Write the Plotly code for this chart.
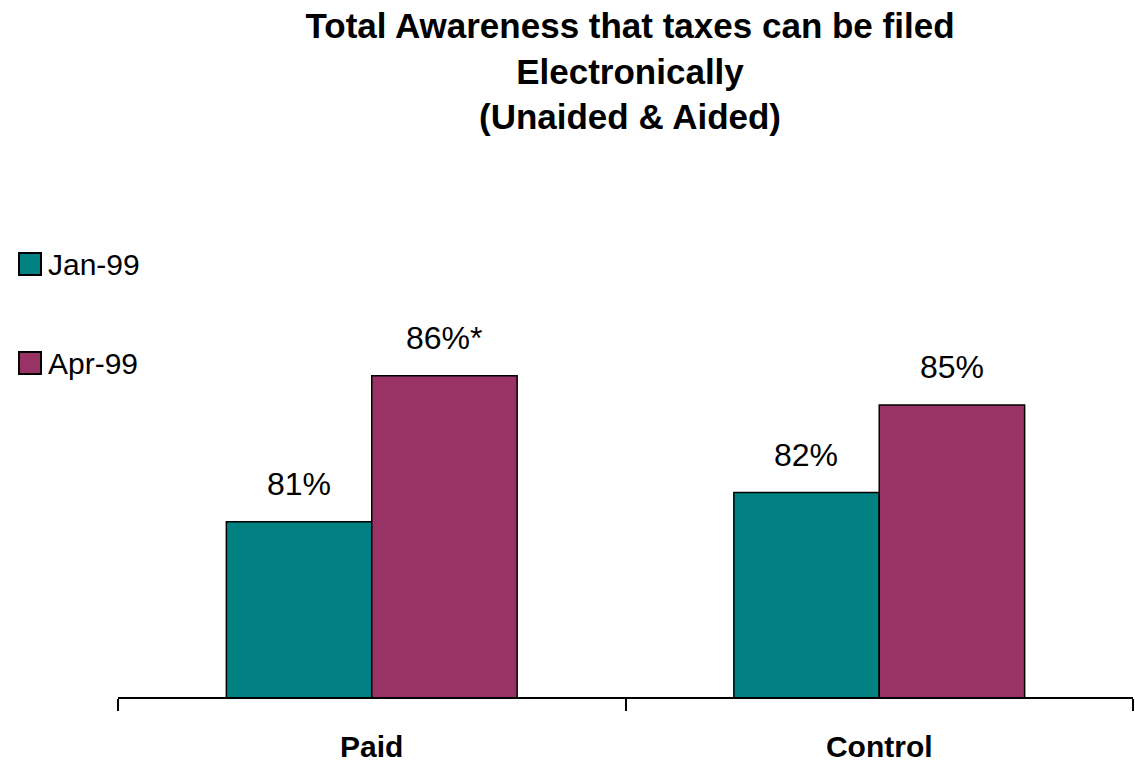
import plotly.graph_objects as go

categories = ["Paid", "Control"]
series_names = ["Jan-99", "Apr-99"]
jan_values = [81, 82]
apr_values = [86, 85]
jan_labels = ["81%", "82%"]
apr_labels = ["86%*", "85%"]
title_lines = ["Total Awareness that taxes can be filed", "Electronically", "(Unaided & Aided)"]

colors = ["#008080", "#993366"]
W, H = 1135, 766
L, R, T, B = 118, 2, 259, 69
plot_w = W - L - R
plot_h = H - T - B

fig = go.Figure()
for name, vals, col in zip(series_names, [jan_values, apr_values], colors):
    fig.add_trace(go.Bar(
        x=categories, y=vals, name=name,
        marker=dict(color=col, line=dict(color="black", width=1.5)),
        showlegend=False, hoverinfo="skip",
    ))

annotations = []
for vals, labels, shift in [(jan_values, jan_labels, -73), (apr_values, apr_labels, 73)]:
    for c, v, t in zip(categories, vals, labels):
        annotations.append(dict(
            x=c, y=v, xref="x", yref="y", text=t, showarrow=False,
            xshift=shift, yshift=18, yanchor="bottom",
            font=dict(family="Liberation Sans, Arial, sans-serif", size=32, color="black"),
        ))

# manual legend
legend_centers_px = [264, 363]
sq = 22
for name, col, cy in zip(series_names, colors, legend_centers_px):
    x0 = (19 - L) / plot_w
    x1 = (19 + sq - L) / plot_w
    y0 = (H - B - (cy + sq / 2)) / plot_h
    y1 = (H - B - (cy - sq / 2)) / plot_h
    fig.add_shape(type="rect", xref="paper", yref="paper", x0=x0, x1=x1, y0=y0, y1=y1,
                  fillcolor=col, line=dict(color="black", width=2))
    annotations.append(dict(
        x=(46 - L) / plot_w, y=(y0 + y1) / 2, xref="paper", yref="paper",
        text=name, showarrow=False, xanchor="left", yanchor="middle",
        font=dict(family="Liberation Sans, Arial, sans-serif", size=30, color="black"),
    ))

fig.update_layout(
    width=W, height=H,
    margin=dict(l=L, r=R, t=T, b=B),
    paper_bgcolor="white", plot_bgcolor="white",
    barmode="group", bargap=0.427, bargroupgap=0,
    title=dict(
        text="<b>" + "<br>".join(title_lines) + "</b>",
        x=630 / W, xanchor="center", xref="container",
        y=1 - 38 / H, yanchor="top", yref="container",
        font=dict(family="Liberation Sans, Arial, sans-serif", size=35, color="black"),
    ),
    annotations=annotations,
    xaxis=dict(
        showline=True, linecolor="black", linewidth=2,
        ticks="outside", tickson="boundaries", ticklen=12, tickwidth=2, tickcolor="black",
        ticklabelstandoff=22,
        tickfont=dict(family="Liberation Sans, Arial, sans-serif", size=30, color="black", weight="bold"),
        showgrid=False, zeroline=False,
    ),
    yaxis=dict(range=[75, 90], visible=False, showgrid=False, zeroline=False),
    showlegend=False,
)

fig.write_html("out.html", config={"displayModeBar": False},
               post_script="document.body.style.margin='0';document.body.style.overflow='hidden';")
